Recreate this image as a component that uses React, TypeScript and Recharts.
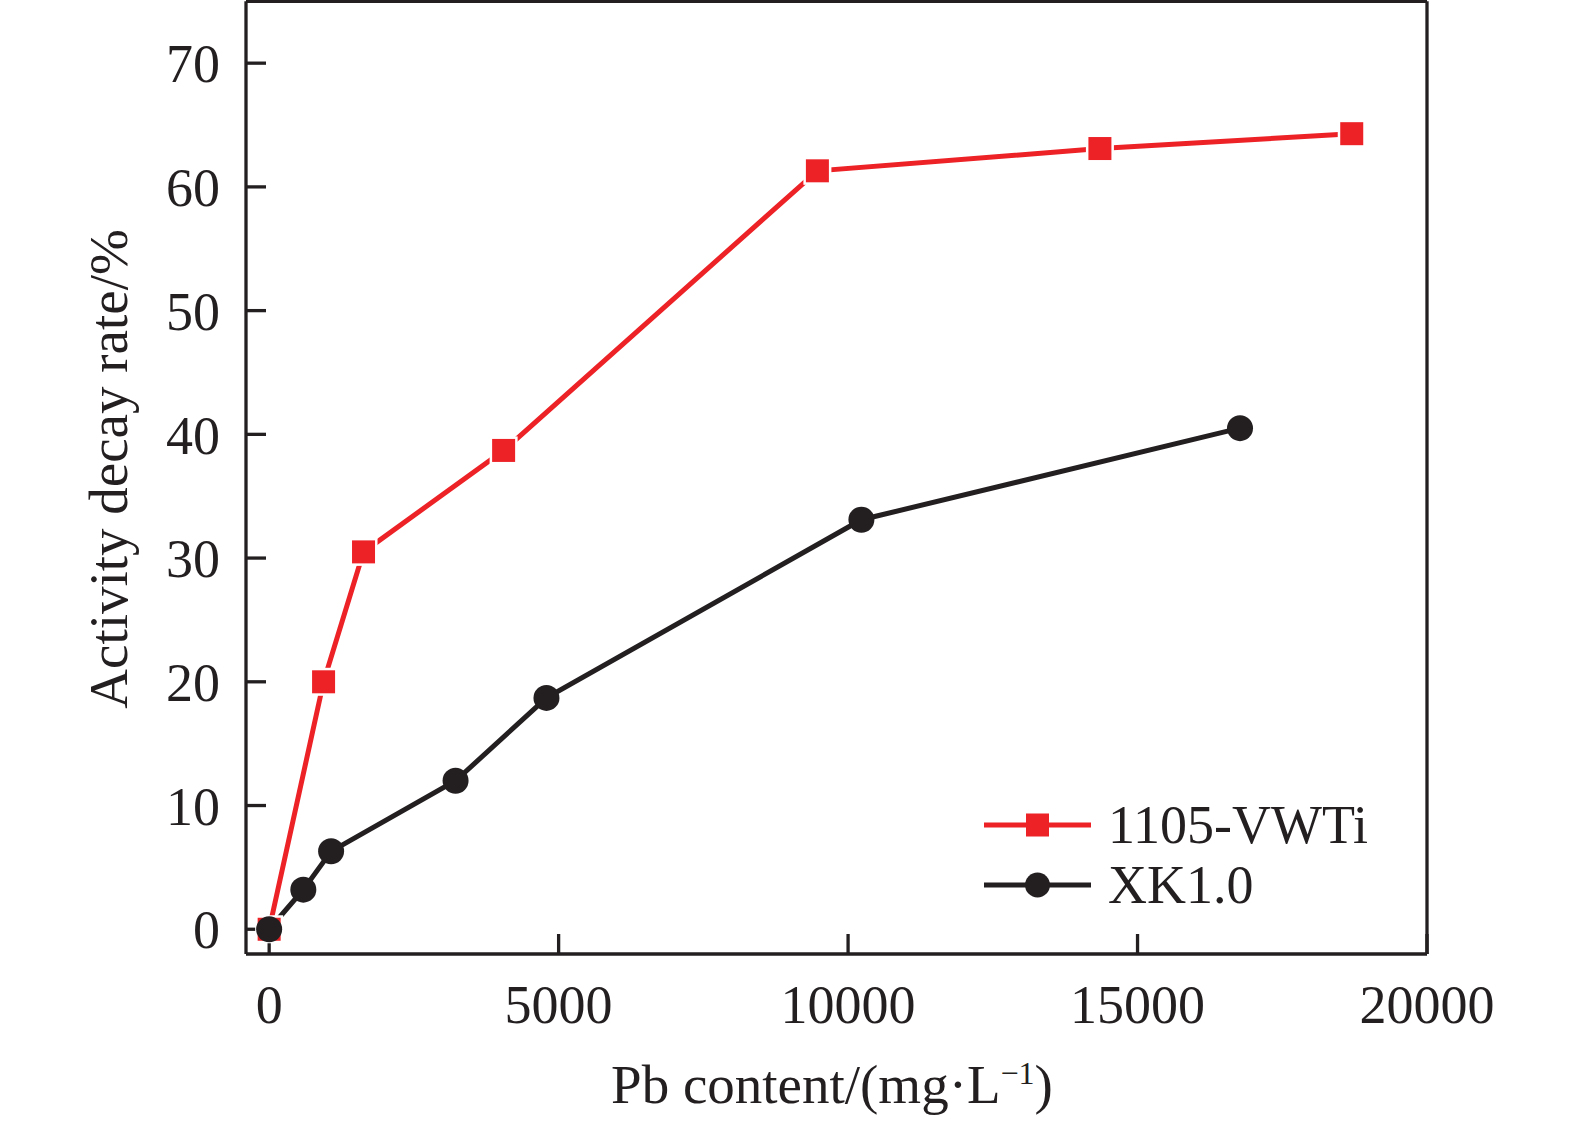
import { Legend, Line, LineChart, ReferenceLine, XAxis, YAxis } from "recharts"

const FONT = '"Liberation Serif", "Times New Roman", serif'
const INK = "#231f20"
const RED = "#ec2227"

// 1105-VWTi
const pbVwti = [0, 940, 1630, 4050, 9470, 14350, 18700]
const rateVwti = [0, 20.0, 30.5, 38.7, 61.3, 63.1, 64.3]

// XK1.0
const pbXk = [0, 590, 1070, 3220, 4790, 10230, 16770]
const rateXk = [0, 3.2, 6.3, 12.0, 18.7, 33.1, 40.5]

const xTicks = [0, 5000, 10000, 15000, 20000]
const yTicks = [0, 10, 20, 30, 40, 50, 60, 70]
const xDomain = [-400, 20000]
const yDomain = [-2, 75]

const vwtiData = pbVwti.map((x, i) => ({ x, y: rateVwti[i] }))
const xkData = pbXk.map((x, i) => ({ x, y: rateXk[i] }))

const SquareDot = (props: any) => {
  const { cx, cy } = props
  if (cx == null || cy == null) return null
  return <rect x={cx - 12.75} y={cy - 12.75} width={25.5} height={25.5} fill={RED} stroke="#fff" strokeWidth={2.5} />
}

const CircleDot = (props: any) => {
  const { cx, cy } = props
  if (cx == null || cy == null) return null
  return <circle cx={cx} cy={cy} r={13} fill={INK} />
}

const XTitle = () => (
  <text x={832} y={1103} textAnchor="middle" fontFamily={FONT} fontSize={55} fill={INK}>
    <tspan>Pb content/(mg·L</tspan>
    <tspan dy={-19} fontSize={32}>−1</tspan>
    <tspan dy={19}>)</tspan>
  </text>
)

const YTitle = () => (
  <text
    x={127}
    y={469}
    transform="rotate(-90 127 469)"
    textAnchor="middle"
    fontFamily={FONT}
    fontSize={55}
    fill={INK}
  >
    Activity decay rate/%
  </text>
)

const legendItems = [
  { name: "1105-VWTi", color: RED, shape: "square" },
  { name: "XK1.0", color: INK, shape: "circle" },
]

const renderLegend = () => (
  <div style={{ fontFamily: FONT, fontSize: 54, color: INK }}>
    {legendItems.map((item) => (
      <div key={item.name} style={{ display: "flex", alignItems: "center", height: 60 }}>
        <svg width={107} height={30} style={{ marginRight: 17 }}>
          <line x1={0} y1={15} x2={107} y2={15} stroke={item.color} strokeWidth={5} />
          {item.shape === "square" ? (
            <rect x={42} y={3.5} width={23} height={23} fill={item.color} />
          ) : (
            <circle cx={53.5} cy={15} r={12.5} fill={item.color} />
          )}
        </svg>
        <span style={{ lineHeight: "60px" }}>{item.name}</span>
      </div>
    ))}
  </div>
)

const tickStyle = { fontFamily: FONT, fontSize: 54, fill: INK }
const axisLine = { stroke: INK, strokeWidth: 3.3 }
const tickLine = { stroke: INK, strokeWidth: 3.3 }

export default function App() {
  return (
    <div style={{ width: 1575, height: 1122, background: "#fff" }}>
      <style>{"body{margin:0;background:#fff}"}</style>
      <LineChart width={1575} height={1122} margin={{ top: 1.3, right: 148, bottom: 0, left: 0 }}>
        <XAxis
          type="number"
          dataKey="x"
          domain={xDomain}
          ticks={xTicks}
          allowDataOverflow
          height={168}
          tick={tickStyle}
          tickSize={-20}
          tickMargin={51}
          axisLine={axisLine}
          tickLine={tickLine}
          label={<XTitle />}
        />
        <YAxis
          type="number"
          domain={yDomain}
          ticks={yTicks}
          allowDataOverflow
          width={246}
          tick={tickStyle}
          tickSize={-20}
          tickMargin={46}
          axisLine={axisLine}
          tickLine={tickLine}
          label={<YTitle />}
        />
        {/* frame: top and right edges */}
        <ReferenceLine y={yDomain[1]} stroke={INK} strokeWidth={3.3} ifOverflow="extendDomain" />
        <ReferenceLine x={xDomain[1]} stroke={INK} strokeWidth={3.3} ifOverflow="extendDomain" />
        <Legend
          layout="vertical"
          align="center"
          verticalAlign="middle"
          content={renderLegend}
          wrapperStyle={{ position: "absolute", left: 984, top: 795, width: 420 }}
        />
        <Line
          data={vwtiData}
          dataKey="y"
          name="1105-VWTi"
          type="linear"
          stroke={RED}
          strokeWidth={5}
          dot={<SquareDot />}
          activeDot={false}
          isAnimationActive={false}
        />
        <Line
          data={xkData}
          dataKey="y"
          name="XK1.0"
          type="linear"
          stroke={INK}
          strokeWidth={5}
          dot={<CircleDot />}
          activeDot={false}
          isAnimationActive={false}
        />
      </LineChart>
    </div>
  )
}
